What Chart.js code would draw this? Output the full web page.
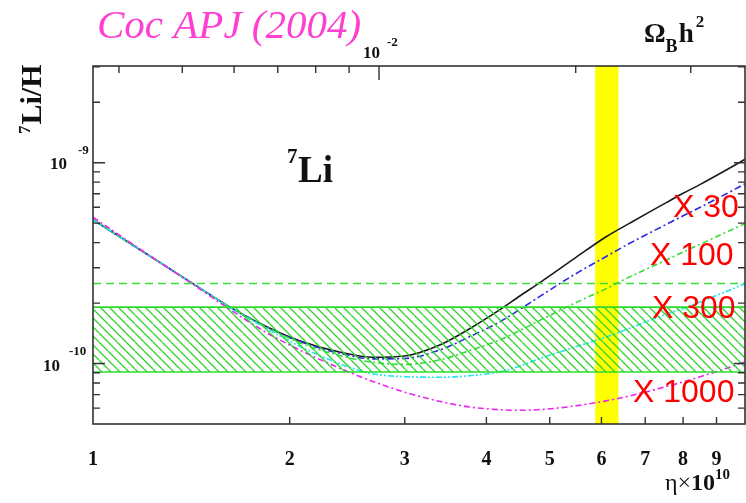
<!DOCTYPE html>
<html>
<head>
<meta charset="utf-8">
<script src="https://cdn.jsdelivr.net/npm/chart.js@4/dist/chart.umd.min.js"></script>
<style>
  body { margin: 0; background: #fff; }
  canvas { display: block; }
</style>
</head>
<body>
<canvas id="li7-chart" width="746" height="503"></canvas>
<script>
// eta x 10^10 sample points, shared by every curve
const etaGrid = [1, 1.2, 1.43, 1.62, 1.84, 2.07, 2.4, 2.68, 3.0, 3.4, 3.77, 4.19, 4.5, 4.83, 5.43, 6.1, 6.63, 7.11, 7.54, 8.0, 8.5, 9.3, 9.95];

// 7Li/H in units of 10^-10
const li7Standard = [5.2, 3.56, 2.47, 1.91, 1.53, 1.30, 1.135, 1.075, 1.09, 1.24, 1.49, 1.85, 2.17, 2.53, 3.30, 4.28, 5.00, 5.69, 6.33, 7.04, 7.80, 9.17, 10.4];
const li7X30 = [5.2, 3.56, 2.47, 1.91, 1.53, 1.29, 1.12, 1.055, 1.06, 1.17, 1.36, 1.61, 1.86, 2.16, 2.75, 3.41, 3.97, 4.47, 4.93, 5.44, 6.00, 6.98, 7.85];
const li7X100 = [5.2, 3.56, 2.47, 1.91, 1.52, 1.27, 1.09, 1.015, 0.99, 1.045, 1.16, 1.31, 1.46, 1.64, 1.98, 2.36, 2.70, 3.00, 3.28, 3.59, 3.93, 4.50, 4.97];
const li7X300 = [5.2, 3.56, 2.47, 1.90, 1.50, 1.22, 0.99, 0.89, 0.86, 0.855, 0.87, 0.91, 0.97, 1.06, 1.20, 1.355, 1.50, 1.64, 1.76, 1.88, 2.03, 2.28, 2.50];
const li7X1000 = [5.35, 3.58, 2.45, 1.86, 1.43, 1.17, 0.94, 0.815, 0.72, 0.647, 0.608, 0.589, 0.585, 0.59, 0.613, 0.652, 0.69, 0.73, 0.768, 0.81, 0.86, 0.945, 1.02];

// observed Spite plateau (hatched) and upper dashed limit, units of 10^-10
const plateauBand = [0.908, 1.91];
const plateauUpper = 2.5;

// WMAP eta range (yellow)
const wmapEta = [5.87, 6.37];

// axis ranges and ticks
const etaRange = [1, 9.95];
const liRange = [5e-11, 3.03e-9];
const etaTickLabels = ['1', '2', '3', '4', '5', '6', '7', '8', '9'];
const etaTickValues = [1, 2, 3, 4, 5, 6, 7, 8, 9];
const liMajorTicks = [1e-10, 1e-9];
const liMinorTicks = [6e-11, 7e-11, 8e-11, 9e-11, 2e-10, 3e-10, 4e-10, 5e-10, 6e-10, 7e-10, 8e-10, 9e-10, 2e-9, 3e-9];
const omegaTicks = [0.4, 0.5, 0.6, 0.7, 0.8, 0.9, 1, 2, 3]; // Omega_B h^2 in 10^-2
const omegaPerEta = 0.365;

const toPoints = (values) => etaGrid.map((eta, i) => ({ x: eta, y: values[i] * 1e-10 }));
const flatLine = (v) => etaRange.map((eta) => ({ x: eta, y: v * 1e-10 }));

const makeHatch = () => {
    const s = 9;
    const c = document.createElement('canvas');
    c.width = s; c.height = s;
    const g = c.getContext('2d');
    g.strokeStyle = '#2bd42b';
    g.lineWidth = 1.3;
    g.beginPath();
    [-s, 0, s].forEach((o) => { g.moveTo(o, 0); g.lineTo(o + s, s); });
    g.stroke();
    return g.createPattern(c, 'repeat');
}

const curve = (values, color, dash) => ({
    data: toPoints(values),
    borderColor: color,
    borderWidth: 1.6,
    borderDash: dash,
    pointRadius: 0,
    cubicInterpolationMode: 'monotone',
    fill: false
});

const text = (ctx, str, x, y, font, color) => {
    ctx.font = font;
    ctx.fillStyle = color || '#111';
    ctx.fillText(str, x, y);
    return ctx.measureText(str).width;
}

const decorations = {
    id: 'decorations',
    beforeDatasetsDraw(chart) {
        const { ctx, chartArea: a, scales: { x } } = chart;
        const x0 = x.getPixelForValue(wmapEta[0]);
        const x1 = x.getPixelForValue(wmapEta[1]);
        ctx.save();
        ctx.fillStyle = '#ffff00';
        ctx.fillRect(x0, a.top, x1 - x0, a.bottom - a.top);
        ctx.restore();
    },
    afterDraw(chart) {
        const { ctx, chartArea: a, scales: { x, y } } = chart;
        ctx.save();
        ctx.strokeStyle = '#333';
        ctx.lineWidth = 1.6;
        ctx.strokeRect(a.left, a.top, a.right - a.left, a.bottom - a.top);

        ctx.lineWidth = 1.4;
        ctx.beginPath();
        // bottom eta ticks
        etaTickValues.slice(1).forEach((v) => {
            const px = x.getPixelForValue(v);
            ctx.moveTo(px, a.bottom); ctx.lineTo(px, a.bottom - 7);
        });
        // top Omega_B h^2 ticks
        omegaTicks.forEach((o) => {
            const px = x.getPixelForValue(o / omegaPerEta);
            ctx.moveTo(px, a.top); ctx.lineTo(px, a.top + (o === 1 ? 14 : 7));
        });
        // left and right log ticks
        liMajorTicks.concat(liMinorTicks).forEach((v) => {
            const py = y.getPixelForValue(v);
            const major = liMajorTicks.includes(v);
            ctx.moveTo(a.left, py); ctx.lineTo(a.left + (major ? 12 : 7), py);
            ctx.moveTo(a.right, py); ctx.lineTo(a.right - (major ? 11 : 7), py);
        });
        ctx.stroke();

        ctx.textBaseline = 'alphabetic';
        // x tick labels
        ctx.textAlign = 'center';
        etaTickValues.forEach((v, i) => {
            text(ctx, etaTickLabels[i], x.getPixelForValue(v), 465, 'bold 20px "Liberation Serif"');
        });
        ctx.textAlign = 'left';

        // y tick labels
        const p9 = y.getPixelForValue(1e-9);
        text(ctx, '10', 50, p9 + 6, 'bold 17px "Liberation Serif"');
        text(ctx, '-9', 78, p9 - 9, 'bold 13px "Liberation Serif"');
        const p10 = y.getPixelForValue(1e-10);
        text(ctx, '10', 43, p10 + 7, 'bold 17px "Liberation Serif"');
        text(ctx, '-10', 69, p10 - 9, 'bold 13px "Liberation Serif"');

        // top axis label 10^-2 at Omega = 1
        text(ctx, '10', 363, 58, 'bold 17px "Liberation Serif"');
        text(ctx, '-2', 387, 46, 'bold 13px "Liberation Serif"');

        // Omega_B h^2
        let w = text(ctx, '\u03A9', 644, 42, 'bold 27px "Liberation Serif"');
        w += text(ctx, 'B', 644 + w, 52, 'bold 18px "Liberation Serif"');
        w += text(ctx, 'h', 645 + w, 42, 'bold 27px "Liberation Serif"');
        text(ctx, '2', 647 + w, 27, 'bold 17px "Liberation Serif"');

        // x title: eta x 10^10
        w = text(ctx, '\u03B7\u00D7', 665, 490, '24px "Liberation Serif"');
        w += text(ctx, '10', 665 + w, 490, 'bold 24px "Liberation Serif"');
        text(ctx, '10', 665 + w, 479, 'bold 15px "Liberation Serif"');

        // y title: 7Li/H, rotated
        ctx.save();
        ctx.translate(41, 134);
        ctx.rotate(-Math.PI / 2);
        w = text(ctx, '7', 0, -11, 'bold 17px "Liberation Serif"');
        text(ctx, 'Li/H', w + 1, 0, 'bold 30px "Liberation Serif"');
        ctx.restore();

        // 7Li inside the frame
        text(ctx, '7', 287, 163, 'bold 21px "Liberation Serif"');
        text(ctx, 'Li', 298, 182, 'bold 37px "Liberation Serif"');

        // reference
        text(ctx, 'Coc APJ (2004)', 97, 38, 'italic 41px "Liberation Serif"', '#ff3fd2');

        // depletion factors
        const red = '#ff0000';
        const sans = '32px "Liberation Sans"';
        text(ctx, 'X 30', 673, 217, sans, red);
        text(ctx, 'X 100', 650, 265, sans, red);
        text(ctx, 'X 300', 652, 318, sans, red);
        text(ctx, 'X 1000', 633, 402, sans, red);
        ctx.restore();
    }
};

const chart = new Chart(document.getElementById('li7-chart'), {
    type: 'line',
    data: {
        datasets: [
            { data: flatLine(plateauBand[0]), borderColor: '#2bdc2b', borderWidth: 1.6, pointRadius: 0, fill: false },
            { data: flatLine(plateauBand[1]), borderColor: '#2bdc2b', borderWidth: 1.6, pointRadius: 0, fill: '-1', backgroundColor: makeHatch() },
            { data: flatLine(plateauUpper), borderColor: '#3ddd3d', borderWidth: 1.5, borderDash: [8, 5], pointRadius: 0, fill: false },
            curve(li7X1000, '#ee22ee', [6, 3, 2, 3]),
            curve(li7X300, '#22e6ee', [6, 2, 2, 2, 2, 2]),
            curve(li7X100, '#33dd33', [6, 3, 2, 3]),
            curve(li7X30, '#2a2ae0', [7, 3, 2, 3]),
            curve(li7Standard, '#1a1a1a', [])
        ]
    },
    options: {
        responsive: false,
        devicePixelRatio: 1,
        animation: false,
        layout: { padding: { left: 93, top: 66, right: 1, bottom: 79 } },
        scales: {
            x: { type: 'logarithmic', min: etaRange[0], max: etaRange[1], display: false },
            y: { type: 'logarithmic', min: liRange[0], max: liRange[1], display: false }
        },
        plugins: { legend: { display: false }, tooltip: { enabled: false } }
    },
    plugins: [decorations]
});
</script>
</body>
</html>
